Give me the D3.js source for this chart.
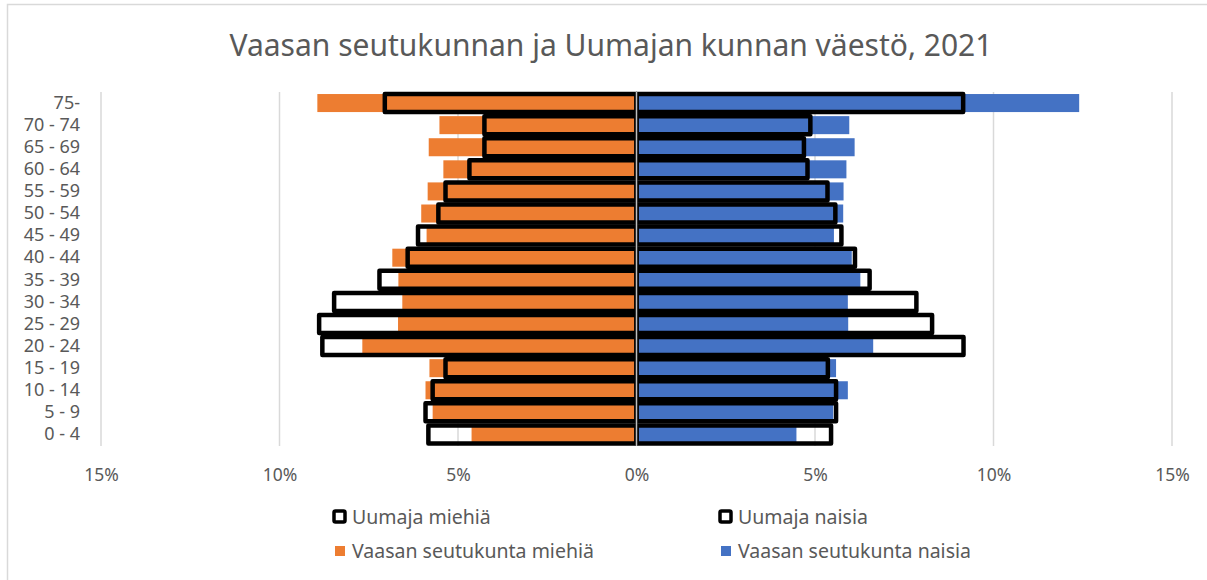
<!DOCTYPE html>
<html>
<head>
<meta charset="utf-8">
<script src="https://cdn.jsdelivr.net/npm/d3@7"></script>
<style>
  html, body { margin: 0; padding: 0; background: #fff; }
  svg { display: block; font-family: "Noto Sans", "Open Sans", sans-serif; }
</style>
</head>
<body>
<svg id="chart" width="1207" height="580"></svg>
<script>
// Age groups, bottom to top
const categories = ["0 - 4","5 - 9","10 - 14","15 - 19","20 - 24","25 - 29","30 - 34","35 - 39","40 - 44","45 - 49","50 - 54","55 - 59","60 - 64","65 - 69","70 - 74","75-"];
// Shares of population (%)
const vaasaMen   = [4.62, 5.71, 5.91, 5.80, 7.68, 6.68, 6.56, 6.67, 6.84, 5.88, 6.03, 5.85, 5.41, 5.82, 5.52, 8.94];
const vaasaWomen = [4.48, 5.51, 5.92, 5.59, 6.63, 5.93, 5.92, 6.27, 6.03, 5.53, 5.79, 5.80, 5.88, 6.11, 5.96, 12.40];
const umeaMen    = [5.83, 5.91, 5.71, 5.35, 8.80, 8.89, 8.47, 7.20, 6.41, 6.12, 5.55, 5.35, 4.68, 4.26, 4.26, 7.05];
const umeaWomen  = [5.45, 5.59, 5.59, 5.36, 9.16, 8.28, 7.84, 6.53, 6.12, 5.74, 5.57, 5.35, 4.79, 4.69, 4.87, 9.15];
const xTicks = [-15, -10, -5, 0, 5, 10, 15];
const title = "Vaasan seutukunnan ja Uumajan kunnan väestö, 2021";
const legendLabels = ["Uumaja miehiä", "Uumaja naisia", "Vaasan seutukunta miehiä", "Vaasan seutukunta naisia"];

const svg = d3.select("#chart");
const textColor = "#595959";
const orange = "#ED7D31", blue = "#4472C4", grid = "#D9D9D9";

// chart border
svg.append("rect").attr("x", 7.5).attr("y", 4.5).attr("width", 1300).attr("height", 700)
  .attr("fill", "none").attr("stroke", grid).attr("stroke-width", 1.5);

const x = d3.scaleLinear().domain([-15, 15]).range([101, 1172]);
const y = d3.scaleBand().domain(categories.slice().reverse()).range([92, 445.5]).paddingInner(0.184).paddingOuter(0.092);

// title
svg.append("text").attr("x", 611).attr("y", 56).attr("text-anchor", "middle")
  .attr("font-size", 30).attr("fill", textColor).text(title);

// gridlines
svg.append("g").selectAll("line").data(xTicks.filter(d => d !== 0)).join("line")
  .attr("x1", d => x(d)).attr("x2", d => x(d)).attr("y1", 92).attr("y2", 446)
  .attr("stroke", grid).attr("stroke-width", 1.5);

// x axis labels
const xAxis = d3.axisBottom(x).tickValues(xTicks).tickFormat(d => Math.abs(d) + "%").tickSize(0).tickPadding(0);
const gx = svg.append("g").attr("transform", "translate(0,469)").call(xAxis);
gx.select(".domain").remove();
gx.selectAll("text").attr("font-size", 17.5).attr("fill", textColor).attr("font-family", "Noto Sans");

// y axis labels
const yAxis = d3.axisLeft(y).tickSize(0).tickPadding(0);
const gy = svg.append("g").attr("transform", "translate(80,0)").call(yAxis);
gy.select(".domain").remove();
gy.selectAll("text").attr("font-size", 18).attr("fill", textColor).attr("font-family", "Noto Sans");

const rows = categories.map((c, i) => ({ c, vm: vaasaMen[i], vw: vaasaWomen[i], um: umeaMen[i], uw: umeaWomen[i] }));

// Vaasa bars
svg.append("g").selectAll("rect").data(rows).join("rect")
  .attr("x", d => x(-d.vm)).attr("width", d => x(0) - x(-d.vm))
  .attr("y", d => y(d.c)).attr("height", y.bandwidth()).attr("fill", orange);
svg.append("g").selectAll("rect").data(rows).join("rect")
  .attr("x", x(0)).attr("width", d => x(d.vw) - x(0))
  .attr("y", d => y(d.c)).attr("height", y.bandwidth()).attr("fill", blue);

// Uumaja outlines
const sw = 4.5;
svg.append("g").selectAll("rect").data(rows).join("rect")
  .attr("x", d => x(-d.um)).attr("width", d => x(0) - x(-d.um))
  .attr("y", d => y(d.c)).attr("height", y.bandwidth())
  .attr("fill", "none").attr("stroke", "#000").attr("stroke-width", sw).attr("stroke-linejoin", "round");
svg.append("g").selectAll("rect").data(rows).join("rect")
  .attr("x", x(0)).attr("width", d => x(d.uw) - x(0))
  .attr("y", d => y(d.c)).attr("height", y.bandwidth())
  .attr("fill", "none").attr("stroke", "#000").attr("stroke-width", sw).attr("stroke-linejoin", "round");

// zero axis
svg.append("line").attr("x1", x(0)).attr("x2", x(0)).attr("y1", 92).attr("y2", 446)
  .attr("stroke", "#BFBFBF").attr("stroke-width", 1.5);

// legend
const legendPos = [[340, 517], [726, 517], [340, 551], [726, 551]];
const lg = svg.append("g");
legendLabels.forEach((lab, i) => {
  const [lx, ly] = legendPos[i];
  if (i < 2) {
    lg.append("rect").attr("x", lx - 6).attr("y", ly - 6).attr("width", 11).attr("height", 11)
      .attr("fill", "#fff").attr("stroke", "#000").attr("stroke-width", 3.5).attr("rx", 1.5);
  } else {
    lg.append("rect").attr("x", lx - 5).attr("y", ly - 5).attr("width", 10).attr("height", 10)
      .attr("fill", i === 2 ? orange : blue);
  }
  lg.append("text").attr("x", lx + 12).attr("y", ly).attr("dy", "0.35em")
    .attr("font-size", 19.5).attr("fill", textColor).text(lab);
});
</script>
</body>
</html>
